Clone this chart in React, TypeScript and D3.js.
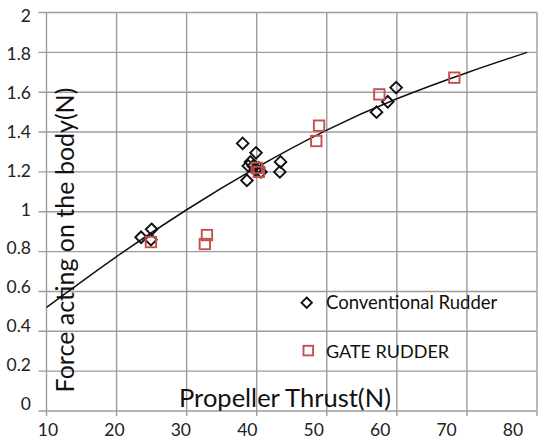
import React from "react";
import * as d3 from "d3";

const W = 547;
const H = 445;

const xTicks = [10, 20, 30, 40, 50, 60, 70, 80];
const yTicks = [0, 0.2, 0.4, 0.6, 0.8, 1, 1.2, 1.4, 1.6, 1.8, 2];
const yTickLabels = ["0", "0.2", "0.4", "0.6", "0.8", "1", "1.2", "1.4", "1.6", "1.8", "2"];

const convX = [23.5, 25.0, 24.9, 38.0, 39.9, 39.1, 38.8, 38.6, 39.5, 39.8, 40.3, 40.6, 43.4, 43.3, 57.1, 58.7, 59.9];
const convY = [0.872, 0.912, 0.86, 1.343, 1.296, 1.25, 1.23, 1.157, 1.23, 1.21, 1.22, 1.2, 1.25, 1.2, 1.5, 1.552, 1.623];

const gateX = [24.9, 32.9, 32.6, 40.0, 40.3, 48.9, 48.5, 57.5, 68.2];
const gateY = [0.848, 0.883, 0.838, 1.22, 1.2, 1.432, 1.355, 1.589, 1.673];

const trendX = [10, 20, 30, 40, 50, 60, 70, 78.6];
const trendY = [0.52, 0.775, 1.01, 1.222, 1.41, 1.567, 1.698, 1.8];

const FONT = "Lato, 'Open Sans', sans-serif";

export default function App() {
  const x = d3.scaleLinear().domain([10, 80]).range([46.5, 537]);
  const y = d3.scaleLinear().domain([0, 2]).range([411, 12.5]);
  // tick label placement (labels in the reference sit on a slightly compressed scale)
  const xLab = d3.scaleLinear().domain([10, 80]).range([48, 513]);
  const yLab = d3.scaleLinear().domain([0, 2]).range([403, 15]);

  const line = d3
    .line<number>()
    .x((d, i) => x(trendX[i]))
    .y((d) => y(d))
    .curve(d3.curveNatural);

  const grid = "#9c9c9c";
  const red = "#c4504e";

  return (
    <svg
      width={W}
      height={H}
      style={{ position: "absolute", left: 0, top: 0, background: "#fff" }}
      fontFamily={FONT}
    >
      <rect x={0} y={0} width={W} height={H} fill="#fff" />
      {xTicks.map((t) => (
        <line key={"gx" + t} x1={x(t)} x2={x(t)} y1={y(2)} y2={y(0) + 5} stroke={grid} strokeWidth={1.4} />
      ))}
      {yTicks.map((t) => (
        <line key={"gy" + t} x1={x(10) - 8} x2={x(80)} y1={y(t)} y2={y(t)} stroke={grid} strokeWidth={1.4} />
      ))}
      {xTicks.map((t) => (
        <text key={"lx" + t} x={xLab(t)} y={436} fontSize={17.5} textAnchor="middle" fill="#222">
          {t}
        </text>
      ))}
      {yTicks.map((t, i) => (
        <text key={"ly" + t} x={31} y={yLab(t)} fontSize={17.5} textAnchor="end" dominantBaseline="central" fill="#222">
          {yTickLabels[i]}
        </text>
      ))}
      <path d={line(trendY) || ""} fill="none" stroke="#111" strokeWidth={1.5} />
      {convX.map((cx, i) => {
        const px = x(cx);
        const py = y(convY[i]);
        const r = 5.8;
        return (
          <path
            key={"c" + i}
            d={`M${px},${py - r}L${px + r},${py}L${px},${py + r}L${px - r},${py}Z`}
            fill="none"
            stroke="#111"
            strokeWidth={1.9}
          />
        );
      })}
      {gateX.map((gx, i) => (
        <rect
          key={"g" + i}
          x={x(gx) - 5.2}
          y={y(gateY[i]) - 5.2}
          width={10.4}
          height={10.4}
          fill="none"
          stroke={red}
          strokeWidth={1.9}
        />
      ))}
      <path d="M306.7,297.5L311.9,302.7L306.7,307.9L301.5,302.7Z" fill="none" stroke="#111" strokeWidth={1.9} />
      <text x={326} y={308.5} fontSize={18.5} fill="#111">
        Conventional Rudder
      </text>
      <rect x={303.5} y={345.8} width={9.6} height={9.6} fill="none" stroke={red} strokeWidth={1.9} />
      <text x={326} y={357.5} fontSize={18} fill="#111">
        GATE RUDDER
      </text>
      <text x={285} y={407} fontSize={25.5} textAnchor="middle" fill="#111">
        Propeller Thrust(N)
      </text>
      <text transform={`translate(74,240) rotate(-90)`} fontSize={25} textAnchor="middle" fill="#111">
        Force acting on the body(N)
      </text>
    </svg>
  );
}
